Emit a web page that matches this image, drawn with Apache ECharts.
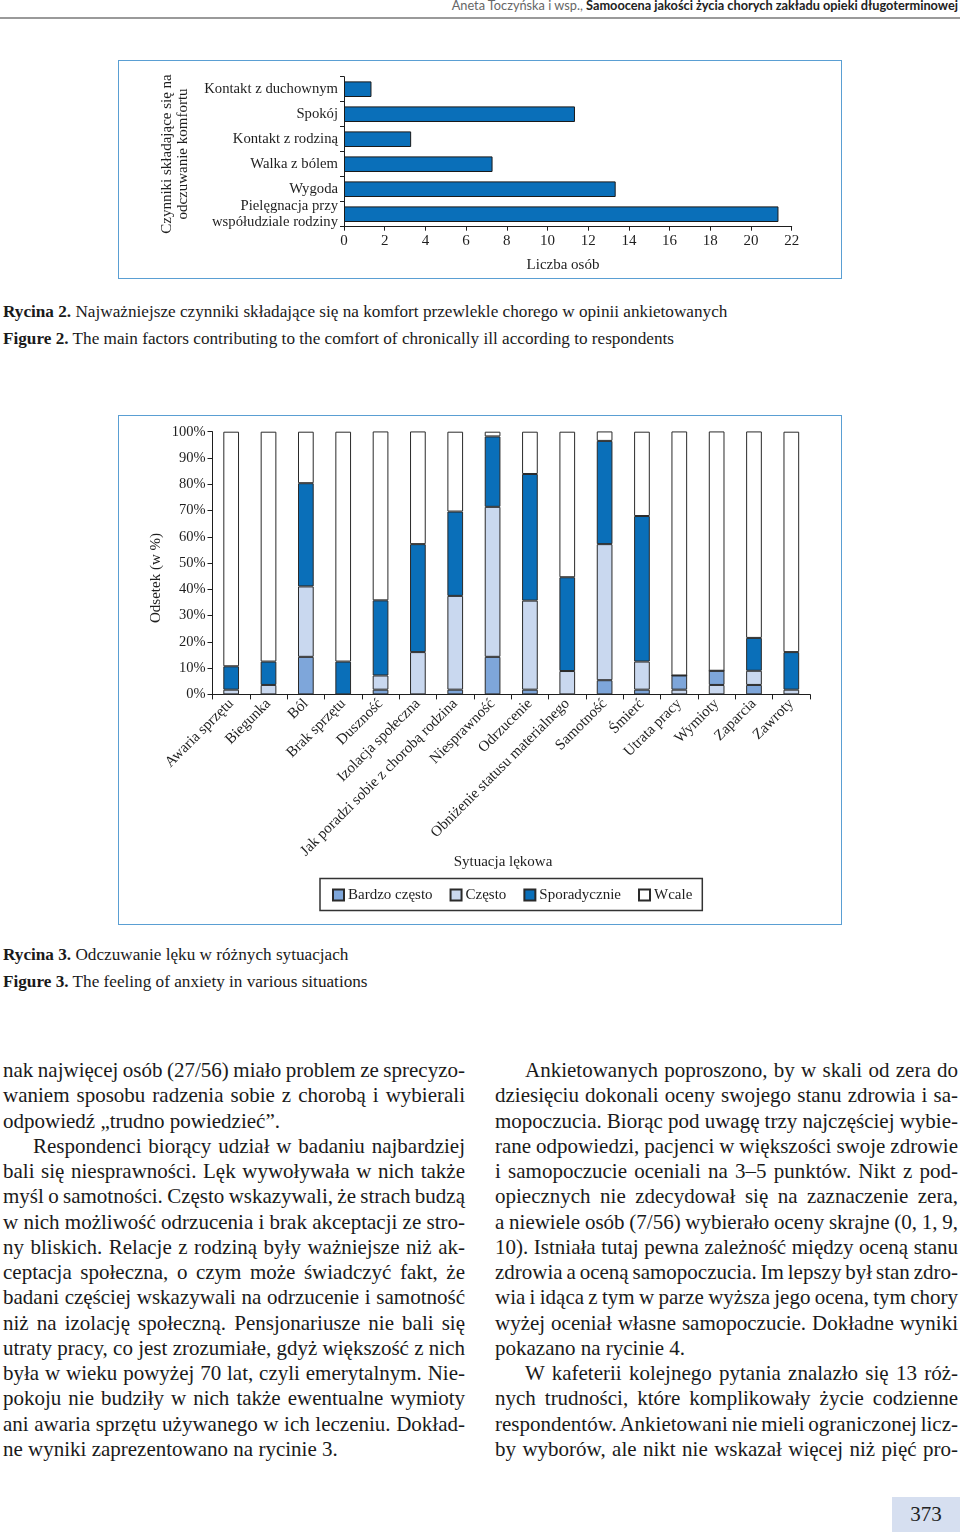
<!DOCTYPE html>
<html>
<head>
<meta charset="utf-8">
<script src="https://cdn.jsdelivr.net/npm/echarts@6/dist/echarts.min.js"></script>
<style>
  html, body { margin:0; padding:0; background:#fff; }
  body { width:960px; height:1539px; position:relative; overflow:hidden; font-family:"Liberation Serif", "DejaVu Serif", serif; color:#1a1a1a; }
  .abs { position:absolute; }
  .header { right:2px; top:-3px; font-family:"Lato","DejaVu Sans",sans-serif; font-size:12.75px; white-space:nowrap; }
  .header .a { color:#666; }
  .header .b { color:#222; font-weight:bold; }
  .hrule { left:0; top:17px; width:960px; height:2px; background:#9a9a9a; }
  .box { border:1.5px solid #5a9fd3; box-sizing:border-box; pointer-events:none; }
  .cap { left:3px; font-size:17.2px; white-space:nowrap; }
  .cap b { font-weight:bold; }
  .col { font-size:21px; line-height:25.27px; }
  .col div { height:25.27px; white-space:nowrap; }
  .col div span { white-space:nowrap; }
  .col div.ind { padding-left:30px; }
  .pnum { left:892px; top:1497px; width:68px; height:35px; background:#d6dff0; font-size:21px; line-height:35px; text-align:center; color:#222; }
</style>
</head>
<body>
<div class="abs header"><span class="a">Aneta Toczyńska i wsp., </span><span class="b">Samoocena jakości życia chorych zakładu opieki długoterminowej</span></div>
<div class="abs hrule"></div>

<div id="c1" class="abs" style="left:118px;top:60px;width:724px;height:219px;"></div>
<div class="abs box" style="left:118px;top:60px;width:724px;height:219px;"></div>

<div class="abs cap" style="top:302px;"><b>Rycina 2.</b> Najważniejsze czynniki składające się na komfort przewlekle chorego w opinii ankietowanych</div>
<div class="abs cap" style="top:329px;"><b>Figure 2.</b> The main factors contributing to the comfort of chronically ill according to respondents</div>

<div id="c2" class="abs" style="left:118px;top:415px;width:724px;height:510px;"></div>
<div class="abs box" style="left:118px;top:415px;width:724px;height:510px;"></div>

<div class="abs cap" style="top:945px;"><b>Rycina 3.</b> Odczuwanie lęku w różnych sytuacjach</div>
<div class="abs cap" style="top:972px;"><b>Figure 3.</b> The feeling of anxiety in various situations</div>

<div class="abs col" style="left:3px;top:1058px;width:462px;">
<div><span>nak najwięcej osób (27/56) miało problem ze sprecyzo-</span></div>
<div><span>waniem sposobu radzenia sobie z chorobą i wybierali</span></div>
<div class="l"><span>odpowiedź „trudno powiedzieć”.</span></div>
<div class="ind"><span>Respondenci biorący udział w badaniu najbardziej</span></div>
<div><span>bali się niesprawności. Lęk wywoływała w nich także</span></div>
<div><span>myśl o samotności. Często wskazywali, że strach budzą</span></div>
<div><span>w nich możliwość odrzucenia i brak akceptacji ze stro-</span></div>
<div><span>ny bliskich. Relacje z rodziną były ważniejsze niż ak-</span></div>
<div><span>ceptacja społeczna, o czym może świadczyć fakt, że</span></div>
<div><span>badani częściej wskazywali na odrzucenie i samotność</span></div>
<div><span>niż na izolację społeczną. Pensjonariusze nie bali się</span></div>
<div><span>utraty pracy, co jest zrozumiałe, gdyż większość z nich</span></div>
<div><span>była w wieku powyżej 70 lat, czyli emerytalnym. Nie-</span></div>
<div><span>pokoju nie budziły w nich także ewentualne wymioty</span></div>
<div><span>ani awaria sprzętu używanego w ich leczeniu. Dokład-</span></div>
<div class="l"><span>ne wyniki zaprezentowano na rycinie 3.</span></div>
</div>

<div class="abs col" style="left:495px;top:1058px;width:463px;">
<div class="ind"><span>Ankietowanych poproszono, by w skali od zera do</span></div>
<div><span>dziesięciu dokonali oceny swojego stanu zdrowia i sa-</span></div>
<div><span>mopoczucia. Biorąc pod uwagę trzy najczęściej wybie-</span></div>
<div><span>rane odpowiedzi, pacjenci w większości swoje zdrowie</span></div>
<div><span>i samopoczucie oceniali na 3–5 punktów. Nikt z pod-</span></div>
<div><span>opiecznych nie zdecydował się na zaznaczenie zera,</span></div>
<div><span>a niewiele osób (7/56) wybierało oceny skrajne (0, 1, 9,</span></div>
<div><span>10). Istniała tutaj pewna zależność między oceną stanu</span></div>
<div><span>zdrowia a oceną samopoczucia. Im lepszy był stan zdro-</span></div>
<div><span>wia i idąca z tym w parze wyższa jego ocena, tym chory</span></div>
<div><span>wyżej oceniał własne samopoczucie. Dokładne wyniki</span></div>
<div class="l"><span>pokazano na rycinie 4.</span></div>
<div class="ind"><span>W kafeterii kolejnego pytania znalazło się 13 róż-</span></div>
<div><span>nych trudności, które komplikowały życie codzienne</span></div>
<div><span>respondentów. Ankietowani nie mieli ograniczonej licz-</span></div>
<div><span>by wyborów, ale nikt nie wskazał więcej niż pięć pro-</span></div>
</div>

<div class="abs pnum">373</div>

<script>
// ---------- Figure 2 data ----------
var comfortFactors = ['Kontakt z duchownym', 'Spokój', 'Kontakt z rodziną', 'Walka z bólem', 'Wygoda', 'Pielęgnacja przy\nwspółudziale rodziny'];
var comfortCounts = [1.35, 11.35, 3.3, 7.3, 13.35, 21.35];
var comfortTicks = { min: 0, max: 22, step: 2 };

// ---------- Figure 3 data (percent) ----------
var situations = ['Awaria sprzętu', 'Biegunka', 'Ból', 'Brak sprzętu', 'Duszność', 'Izolacja społeczna',
  'Jak poradzi sobie z chorobą rodzina', 'Niesprawność', 'Odrzucenie', 'Obniżenie statusu materialnego',
  'Samotność', 'Śmierć', 'Utrata pracy', 'Wymioty', 'Zaparcia', 'Zawroty'];
var bardzoCzesto = [0, 0, 14.3, 0, 1.8, 0, 1.8, 14.3, 1.8, 0, 5.4, 1.8, 5.4, 5.4, 3.6, 0];
var czesto       = [1.8, 3.6, 26.8, 0, 5.4, 16.1, 35.7, 57.1, 33.9, 8.9, 51.8, 10.7, 1.8, 3.6, 5.4, 1.8];
var sporadycznie = [8.9, 8.9, 39.3, 12.5, 28.6, 41.1, 32.1, 26.8, 48.2, 35.7, 39.3, 55.4, 0, 0, 12.5, 14.3];
var wcale        = [89.3, 87.5, 19.6, 87.5, 64.3, 42.9, 30.4, 1.8, 16.1, 55.4, 3.6, 32.1, 92.9, 91.1, 78.6, 83.9];
// in these bars the original draws the "Często" segment below the "Bardzo często" one
var czestoDrawnBelow = ['Utrata pracy', 'Wymioty'];
var seriesNames = ['Bardzo często', 'Często', 'Sporadycznie', 'Wcale'];
var pctTicks = { min: 0, max: 100, step: 10 };

var FONT = '"Liberation Serif", "DejaVu Serif", serif';
var INK = '#1e1e1e';
var C_BARDZO = '#7ea6da', C_CZESTO = '#c9d8ef', C_SPOR = '#0a6fb9', C_WCALE = '#ffffff';

// ---------- justify body lines by word-spacing ----------
(function () {
  var cols = document.querySelectorAll('.col');
  cols.forEach(function (col) {
    var W = col.clientWidth;
    col.querySelectorAll('div').forEach(function (d) {
      var span = d.querySelector('span');
      var avail = W - (d.classList.contains('ind') ? 30 : 0);
      var nat = span.getBoundingClientRect().width;
      var spaces = (span.textContent.match(/ /g) || []).length;
      if (!spaces) return;
      if (!d.classList.contains('l') || nat > avail) {
        span.style.wordSpacing = ((avail - nat) / spaces) + 'px';
      }
    });
  });
})();

// ---------- Chart 1 ----------
var c1 = echarts.init(document.getElementById('c1'), null, { renderer: 'canvas' });
c1.setOption({
  animation: false,
  grid: { left: 226, top: 16.7, width: 447.7, height: 150, containLabel: false },
  xAxis: {
    type: 'value', min: comfortTicks.min, max: comfortTicks.max, interval: comfortTicks.step,
    axisLine: { show: true, lineStyle: { color: INK, width: 1 } },
    axisTick: { show: true, length: 4, lineStyle: { color: INK } },
    splitLine: { show: false },
    axisLabel: { fontFamily: FONT, fontSize: 15, color: INK, margin: 7 }
  },
  yAxis: {
    type: 'category', inverse: true, data: comfortFactors,
    axisLine: { show: true, lineStyle: { color: INK, width: 1 } },
    axisTick: { show: true, length: 4, lineStyle: { color: INK } },
    axisLabel: { fontFamily: FONT, fontSize: 14.7, color: INK, margin: 6, lineHeight: 16 }
  },
  series: [{
    type: 'bar', data: comfortCounts, barWidth: 15.6,
    itemStyle: { color: C_SPOR, borderColor: '#1a1a1a', borderWidth: 1 }
  }],
  graphic: [
    { type: 'text', x: 57, y: 94, rotation: Math.PI / 2,
      style: { text: 'Czynniki składające się na\nodczuwanie komfortu', font: '15px ' + FONT, fill: INK, align: 'center', verticalAlign: 'middle', lineHeight: 16 } },
    { type: 'text', x: 445, y: 205,
      style: { text: 'Liczba osób', font: '15px ' + FONT, fill: INK, align: 'center', verticalAlign: 'middle' } }
  ]
});

// ---------- Chart 2 ----------
function buildLow(isBottom) {
  return situations.map(function (s, i) {
    var swap = czestoDrawnBelow.indexOf(s) >= 0;
    if (isBottom) {
      return swap ? { value: czesto[i], itemStyle: { color: C_CZESTO } } : bardzoCzesto[i];
    }
    return swap ? { value: bardzoCzesto[i], itemStyle: { color: C_BARDZO } } : czesto[i];
  });
}
var barStyle = { borderColor: '#2a2a2a', borderWidth: 1 };
function mk(name, data, color) {
  return { name: name, type: 'bar', stack: 'all', data: data, barWidth: 15.7,
    itemStyle: Object.assign({ color: color }, barStyle) };
}
var c2 = echarts.init(document.getElementById('c2'), null, { renderer: 'canvas' });
c2.setOption({
  animation: false,
  grid: { left: 94.5, top: 16.7, width: 597.5, height: 262.7, containLabel: false },
  legend: {
    data: seriesNames, left: 202, top: 463.5, orient: 'horizontal',
    icon: 'rect', itemWidth: 11, itemHeight: 11, itemGap: 17,
    padding: [9, 10, 8, 12], borderColor: '#333', borderWidth: 1.5,
    textStyle: { fontFamily: FONT, fontSize: 15, color: INK, padding: [0, 0, 0, -1] }
  },
  xAxis: {
    type: 'category', data: situations,
    axisLine: { show: true, lineStyle: { color: INK, width: 1 } },
    axisTick: { show: true, length: 5, lineStyle: { color: INK } },
    axisLabel: { fontFamily: FONT, fontSize: 15, color: INK, rotate: 45, interval: 0, margin: 7 }
  },
  yAxis: {
    type: 'value', min: pctTicks.min, max: pctTicks.max, interval: pctTicks.step,
    axisLine: { show: true, lineStyle: { color: INK, width: 1 } },
    axisTick: { show: true, length: 5, lineStyle: { color: INK } },
    splitLine: { show: false },
    axisLabel: { fontFamily: FONT, fontSize: 14.5, color: INK, margin: 7, formatter: '{value}%' }
  },
  series: [
    mk(seriesNames[0], buildLow(true), C_BARDZO),
    mk(seriesNames[1], buildLow(false), C_CZESTO),
    mk(seriesNames[2], sporadycznie, C_SPOR),
    mk(seriesNames[3], wcale, C_WCALE)
  ],
  graphic: [
    { type: 'text', x: 38, y: 163, rotation: Math.PI / 2,
      style: { text: 'Odsetek (w %)', font: '15px ' + FONT, fill: INK, align: 'center', verticalAlign: 'middle' } },
    { type: 'text', x: 385, y: 447,
      style: { text: 'Sytuacja lękowa', font: '15px ' + FONT, fill: INK, align: 'center', verticalAlign: 'middle' } }
  ]
});
</script>
</body>
</html>
